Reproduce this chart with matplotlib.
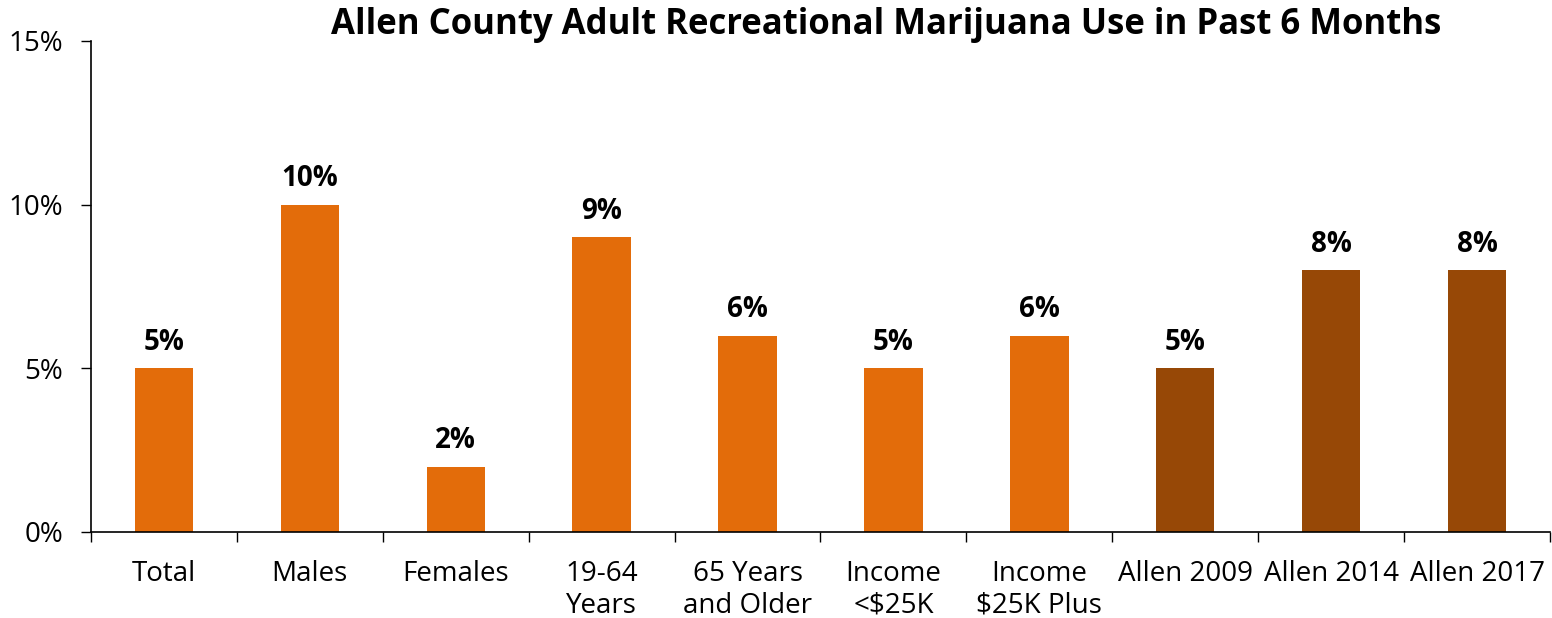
import matplotlib
matplotlib.use("Agg")
import matplotlib.pyplot as plt
import numpy as np

categories = ["Total", "Males", "Females", "19-64\nYears", "65 Years\nand Older",
              "Income\n<$25K", "Income\n$25K Plus", "Allen 2009", "Allen 2014", "Allen 2017"]
values = [5, 10, 2, 9, 6, 5, 6, 5, 8, 8]
colors = ["#E36C0A"] * 7 + ["#974806"] * 3

plt.rcParams['font.family'] = ['Open Sans', 'DejaVu Sans']

fig = plt.figure(figsize=(15.52, 6.18), dpi=100)
ax = fig.add_axes([0.0586, 0.1392, 0.9401, 0.7945])

x = np.arange(len(categories))
ax.bar(x, values, width=0.4, color=colors)

for xi, v in zip(x, values):
    ax.text(xi, v + 0.35, f"{v}%", ha="center", va="bottom",
            fontsize=20, fontweight="bold", color="black")

ax.set_xlim(-0.5, len(categories) - 0.5)
ax.set_ylim(0, 15)
ax.set_yticks([0, 5, 10, 15])
ax.set_yticklabels([f"{t}%" for t in [0, 5, 10, 15]], fontsize=20)
ax.tick_params(axis="y", length=7, width=1, pad=13, direction="out")

ax.set_xticks(x)
ax.set_xticklabels(categories, fontsize=20, linespacing=1.2)
ax.tick_params(axis="x", which="major", length=0, pad=20)
ax.set_xticks(np.arange(-0.5, len(categories)), minor=True)
ax.tick_params(axis="x", which="minor", length=7, width=1, direction="out")

for s in ["top", "right"]:
    ax.spines[s].set_visible(False)
for s in ["left", "bottom"]:
    ax.spines[s].set_linewidth(1.2)

fig.text(0.571, 0.96, "Allen County Adult Recreational Marijuana Use in Past 6 Months",
         ha="center", va="center", fontsize=25, fontweight="bold")

fig.savefig("out.png", dpi=100)
